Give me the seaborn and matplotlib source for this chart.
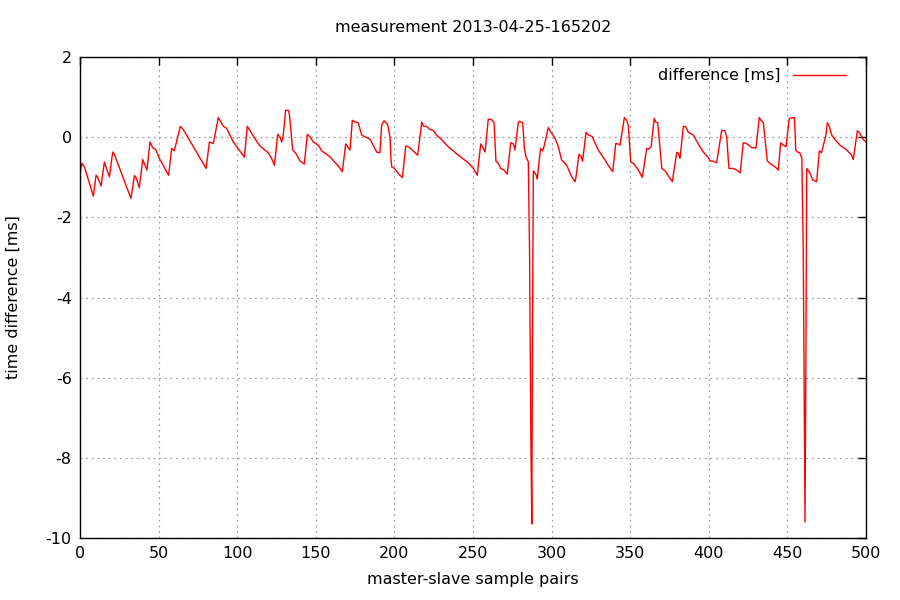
import matplotlib
matplotlib.use("Agg")
import matplotlib.pyplot as plt
import seaborn as sns
import pandas as pd

title = "measurement 2013-04-25-165202"
xlabel = "master-slave sample pairs"
ylabel = "time difference [ms]"
series_name = "difference [ms]"
xticks = [0, 50, 100, 150, 200, 250, 300, 350, 400, 450, 500]
yticks = [-10, -8, -6, -4, -2, 0, 2]

sample_x = [
    0.0, 1.3, 2.8, 8.5, 10.2, 11.2, 13.4, 15.5, 16.5, 18.7, 20.8, 21.8, 32.4, 34.6, 35.6,
    37.7, 39.9, 40.9, 42.6, 44.5, 46.2, 48.3, 50.5, 56.4, 58.3, 60.0, 63.8, 65.7, 80.2,
    82.3, 84.8, 88.0, 89.0, 91.2, 93.3, 97.5, 104.0, 104.6, 106.4, 108.1, 110.3, 114.5,
    119.8, 121.9, 123.6, 124.5, 125.7, 127.2, 128.3, 129.3, 130.8, 132.5, 133.2, 135.3,
    137.4, 139.9, 142.7, 144.6, 146.3, 148.4, 151.6, 153.7, 159.0, 164.3, 166.9, 169.0,
    170.3, 171.8, 173.2, 175.0, 177.0, 179.2, 182.4, 184.5, 188.7, 190.8, 191.9, 193.4,
    195.7, 197.2, 197.8, 198.3, 200.0, 202.5, 205.1, 207.2, 208.9, 211.0, 214.8, 217.4,
    218.5, 220.5, 222.6, 224.7, 226.9, 230.0, 234.3, 240.7, 247.0, 250.2, 252.7, 254.9,
    256.6, 257.7, 259.7, 261.8, 263.4, 264.6, 266.1, 267.6, 269.7, 271.8, 274.0, 275.7,
    276.7, 278.8, 279.5, 281.6, 282.7, 283.7, 285.2, 286.0, 286.8, 287.4, 287.8, 288.4,
    289.5, 290.5, 290.9, 291.5, 293.0, 294.3, 295.4, 297.9, 299.0, 300.0, 302.2, 304.3,
    306.4, 309.6, 312.8, 314.9, 315.5, 317.4, 318.7, 319.7, 321.9, 323.6, 325.7, 326.8,
    329.7, 334.0, 336.0, 338.9, 340.8, 342.5, 343.5, 346.3, 347.8, 348.8, 350.3, 352.0,
    355.2, 357.7, 359.4, 360.5, 361.5, 363.3, 365.3, 366.2, 367.5, 370.1, 372.2, 374.3,
    376.8, 379.6, 380.6, 381.7, 383.8, 385.3, 387.0, 390.2, 393.3, 396.5, 399.7, 400.8,
    402.9, 405.0, 408.2, 410.3, 411.4, 412.8, 415.6, 417.7, 420.0, 421.9, 424.0, 427.3,
    430.0, 432.1, 433.2, 434.7, 437.2, 439.3, 442.1, 444.2, 445.7, 447.5, 449.1, 451.2,
    454.5, 455.3, 456.4, 457.9, 459.2, 460.1, 460.8, 461.2, 461.8, 462.3, 464.4, 466.1,
    468.6, 470.3, 471.7, 474.5, 475.4, 476.7, 478.2, 480.3, 483.5, 487.7, 490.9, 491.9,
    494.5, 495.8, 496.7, 498.3, 500.0,
]
difference_ms = [
    -0.90, -0.65, -0.74, -1.47, -0.95, -1.00, -1.22, -0.62, -0.74, -0.99, -0.37, -0.42, -1.53, -0.96, -1.00,
    -1.26, -0.56, -0.66, -0.82, -0.12, -0.26, -0.32, -0.53, -0.95, -0.28, -0.34, 0.27, 0.19, -0.78,
    -0.12, -0.16, 0.49, 0.42, 0.27, 0.22, -0.12, -0.47, -0.50, 0.27, 0.17, 0.02, -0.22,
    -0.39, -0.53, -0.70, -0.41, 0.07, 0.01, -0.12, 0.05, 0.67, 0.67, 0.58, -0.32,
    -0.41, -0.59, -0.67, 0.07, 0.01, -0.12, -0.20, -0.34, -0.49, -0.72, -0.86, -0.17,
    -0.24, -0.32, 0.42, 0.38, 0.36, 0.05, -0.01, -0.05, -0.37, -0.39, 0.30, 0.41,
    0.32, 0.00, -0.53, -0.74, -0.78, -0.91, -1.01, -0.22, -0.24, -0.31, -0.45, 0.38,
    0.27, 0.27, 0.19, 0.17, 0.05, -0.06, -0.24, -0.45, -0.64, -0.78, -0.95, -0.17,
    -0.28, -0.37, 0.45, 0.44, 0.36, -0.60, -0.65, -0.78, -0.82, -0.92, -0.14, -0.17,
    -0.32, 0.36, 0.40, 0.36, -0.28, -0.49, -0.62, -2.94, -7.43, -9.65, -5.26, -0.84,
    -0.90, -0.97, -1.04, -0.80, -0.28, -0.34, -0.20, 0.24, 0.16, 0.10, -0.03, -0.24,
    -0.57, -0.70, -0.99, -1.11, -1.00, -0.43, -0.47, -0.60, 0.12, 0.05, 0.02, -0.07,
    -0.32, -0.57, -0.70, -0.86, -0.16, -0.17, -0.20, 0.49, 0.42, 0.30, -0.62, -0.65,
    -0.82, -1.00, -0.57, -0.28, -0.30, -0.24, 0.47, 0.38, 0.36, -0.78, -0.84, -0.97,
    -1.11, -0.38, -0.40, -0.53, 0.27, 0.26, 0.12, 0.05, -0.17, -0.37, -0.51, -0.59,
    -0.60, -0.64, 0.17, 0.16, 0.00, -0.78, -0.78, -0.82, -0.89, -0.14, -0.16, -0.26,
    -0.27, 0.49, 0.42, 0.36, -0.59, -0.67, -0.74, -0.82, -0.14, -0.20, -0.24, 0.47,
    0.49, -0.32, -0.37, -0.39, -0.53, -2.90, -7.38, -9.60, -5.19, -0.78, -0.90, -1.07,
    -1.11, -0.34, -0.39, 0.05, 0.36, 0.27, 0.05, -0.06, -0.20, -0.32, -0.45, -0.56,
    0.16, 0.12, 0.05, -0.06, -0.12,
]

df = pd.DataFrame({"x": sample_x, "y": difference_ms})

sns.set_style("white")
plt.rcParams["font.family"] = ["DejaVu Sans"]
plt.rcParams["axes.unicode_minus"] = False
plt.rcParams["text.color"] = "black"
plt.rcParams["axes.labelcolor"] = "black"

FS = 11.5

fig = plt.figure(figsize=(9, 6), dpi=100)
ax = fig.add_axes([80 / 900, 1 - 538 / 600, 786 / 900, 481 / 600])

sns.lineplot(data=df, x="x", y="y", sort=False, estimator=None, color="#ff0000",
             linewidth=1.0, label=series_name, ax=ax)

ax.set_xlim(0, 500)
ax.set_ylim(-10, 2)
ax.set_xticks(xticks)
ax.set_yticks(yticks)
ax.grid(True, color="#a0a0a0", linestyle=(0, (1.5, 3)), linewidth=0.9)
for s in ax.spines.values():
    s.set_color("black")
    s.set_linewidth(1.0)
    s.set_visible(True)
ax.tick_params(direction="in", length=6, width=1, top=True, right=True,
               labelsize=FS, colors="black", pad=6)
ax.set_xlabel(xlabel, fontsize=FS, labelpad=8, color="black")
ax.set_ylabel(ylabel, fontsize=FS, labelpad=18, color="black")
ax.set_title(title, fontsize=FS, pad=18, color="black")

leg = ax.legend(loc="upper right", frameon=False, markerfirst=False,
                handlelength=3.3, handletextpad=0.8, fontsize=FS, borderaxespad=0.3,
                bbox_to_anchor=(0.989, 1.0))
for t in leg.get_texts():
    t.set_color("black")

fig.savefig("out.png", dpi=100)
